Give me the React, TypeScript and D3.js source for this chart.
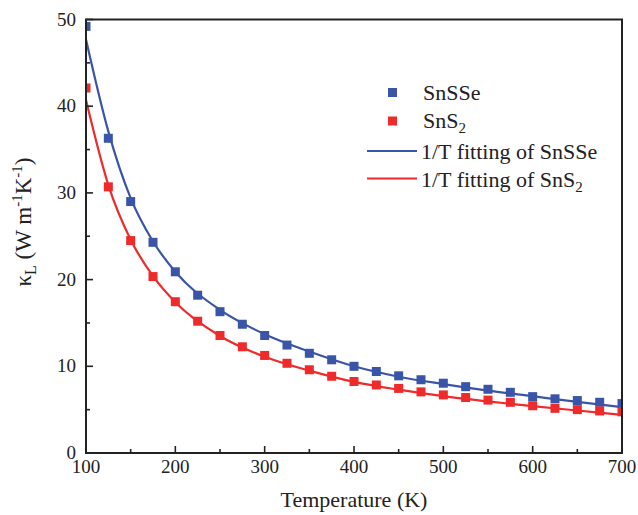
import React from "react";
import * as d3 from "d3";

// temperatures of the data points (K)
const temps = [100, 125, 150, 175, 200, 225, 250, 275, 300, 325, 350, 375, 400, 425, 450, 475, 500, 525, 550, 575, 600, 625, 650, 675, 700];
const snsse = [49.2, 36.3, 29.0, 24.3, 20.9, 18.2, 16.3, 14.85, 13.55, 12.45, 11.5, 10.75, 10.0, 9.4, 8.9, 8.45, 8.05, 7.65, 7.35, 7.0, 6.5, 6.25, 6.05, 5.85, 5.7];
const sns2 = [42.1, 30.7, 24.5, 20.35, 17.45, 15.2, 13.55, 12.25, 11.25, 10.35, 9.6, 8.85, 8.25, 7.85, 7.45, 7.05, 6.7, 6.4, 6.1, 5.85, 5.45, 5.15, 5.0, 4.85, 4.75];

// fitted curves
const fitTemps = [100, 125, 150, 175, 200, 250, 300, 350, 400, 450, 500, 550, 600, 650, 700];
const fitSnsse = [47.7, 37.1, 29.4, 24.4, 20.9, 16.5, 13.7, 11.7, 10.0, 8.8, 7.95, 7.2, 6.55, 5.9, 5.3];
const fitSns2 = [40.7, 30.9, 24.6, 20.4, 17.4, 13.5, 11.1, 9.5, 8.2, 7.3, 6.55, 5.95, 5.4, 4.9, 4.4];

const xTicks = [100, 200, 300, 400, 500, 600, 700];
const yTicks = [0, 10, 20, 30, 40, 50];

const BLUE = "#3a55a8";
const RED = "#ee2a2a";
const FONT = "'Liberation Serif', 'DejaVu Serif', serif";

export default function App() {
  const W = 638;
  const H = 515;
  const m = { left: 86, right: 622, top: 19.5, bottom: 453 };

  const x = d3.scaleLinear().domain([100, 700]).range([m.left, m.right]);
  const y = d3.scaleLinear().domain([0, 50]).range([m.bottom, m.top]);

  const line = d3
    .line<[number, number]>()
    .x((d) => x(d[0]))
    .y((d) => y(d[1]))
    .curve(d3.curveMonotoneX);

  const fitA = line(fitTemps.map((t, i) => [t, fitSnsse[i]]) as [number, number][]) || "";
  const fitB = line(fitTemps.map((t, i) => [t, fitSns2[i]]) as [number, number][]) || "";

  const minorX = d3.range(150, 700, 100);
  const minorY = d3.range(5, 50, 10);
  const sq = 9;

  return (
    <svg width={W} height={H} style={{ position: "absolute", left: 0, top: 0, background: "#fff" }} fontFamily={FONT}>
      <defs>
        <clipPath id="plot">
          <rect x={m.left} y={m.top} width={m.right - m.left} height={m.bottom - m.top} />
        </clipPath>
      </defs>

      <g clipPath="url(#plot)">
        <path d={fitA} fill="none" stroke={BLUE} strokeWidth={2.2} />
        <path d={fitB} fill="none" stroke={RED} strokeWidth={2.2} />
        {temps.map((t, i) => (
          <rect key={"b" + t} x={x(t) - sq / 2} y={y(snsse[i]) - sq / 2} width={sq} height={sq} fill={BLUE} />
        ))}
        {temps.map((t, i) => (
          <rect key={"r" + t} x={x(t) - sq / 2} y={y(sns2[i]) - sq / 2} width={sq} height={sq} fill={RED} />
        ))}
      </g>

      {/* frame */}
      <rect x={m.left} y={m.top} width={m.right - m.left} height={m.bottom - m.top} fill="none" stroke="#222" strokeWidth={2} />

      {/* x ticks */}
      {xTicks.map((t) => (
        <g key={"xt" + t}>
          <line x1={x(t)} x2={x(t)} y1={m.bottom} y2={m.bottom - 7} stroke="#222" strokeWidth={1.6} />
          <text x={x(t)} y={m.bottom + 20} textAnchor="middle" fontSize={19} fill="#222">{t}</text>
        </g>
      ))}
      {minorX.map((t) => (
        <line key={"xm" + t} x1={x(t)} x2={x(t)} y1={m.bottom} y2={m.bottom - 4} stroke="#222" strokeWidth={1.6} />
      ))}

      {/* y ticks */}
      {yTicks.map((v) => (
        <g key={"yt" + v}>
          <line x1={m.left} x2={m.left + 7} y1={y(v)} y2={y(v)} stroke="#222" strokeWidth={1.6} />
          <text x={m.left - 10} y={y(v) + 6} textAnchor="end" fontSize={19} fill="#222">{v}</text>
        </g>
      ))}
      {minorY.map((v) => (
        <line key={"ym" + v} x1={m.left} x2={m.left + 4} y1={y(v)} y2={y(v)} stroke="#222" strokeWidth={1.6} />
      ))}

      {/* axis titles */}
      <text x={(m.left + m.right) / 2} y={m.bottom + 54} textAnchor="middle" fontSize={22} fill="#222">Temperature (K)</text>
      <text transform="translate(31, 222) rotate(-90)" textAnchor="middle" fontSize={23} fill="#222">
        κ<tspan fontSize={16} dy={5}>L</tspan>
        <tspan dy={-5}> (W m</tspan>
        <tspan fontSize={15} dy={-9}>-1</tspan>
        <tspan dy={9}>K</tspan>
        <tspan fontSize={15} dy={-9}>-1</tspan>
        <tspan dy={9}>)</tspan>
      </text>

      {/* legend */}
      <g fontSize={22} fill="#222">
        <rect x={392.5 - sq / 2} y={92.5 - sq / 2} width={sq} height={sq} fill={BLUE} />
        <text x={423} y={100}>SnSSe</text>
        <rect x={392.5 - sq / 2} y={121 - sq / 2} width={sq} height={sq} fill={RED} />
        <text x={423} y={128}>SnS<tspan fontSize={15} dy={5}>2</tspan></text>
        <line x1={367} x2={417} y1={151} y2={151} stroke={BLUE} strokeWidth={2.2} />
        <text x={421} y={159}>1/T fitting of SnSSe</text>
        <line x1={367} x2={417} y1={178.5} y2={178.5} stroke={RED} strokeWidth={2.2} />
        <text x={421} y={187}>1/T fitting of SnS<tspan fontSize={15} dy={5}>2</tspan></text>
      </g>
    </svg>
  );
}
